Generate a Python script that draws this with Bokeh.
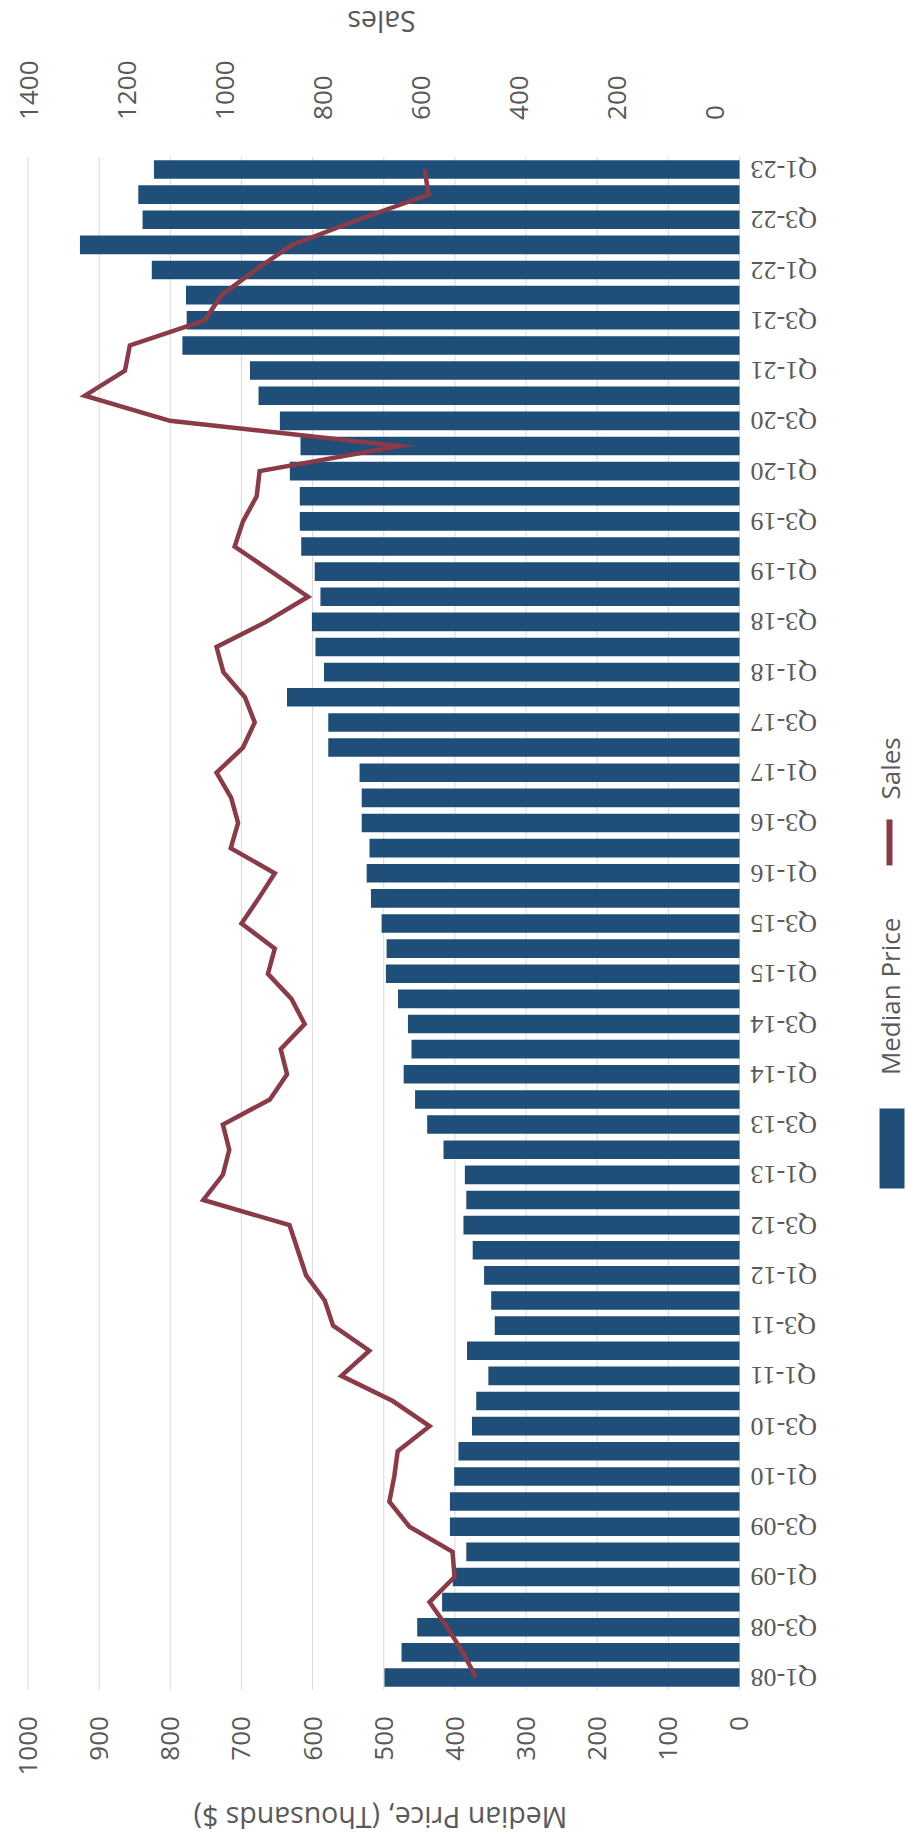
import math

from bokeh.core.properties import value
from bokeh.embed import file_html
from bokeh.models import (ColumnDataSource, FixedTicker, LabelSet, LinearAxis,
                          Range1d)
from bokeh.plotting import figure
from bokeh.resources import INLINE

# Quarterly housing market: median price (thousands $) and number of sales
quarters = [
    "Q1-08", "Q2-08", "Q3-08", "Q4-08", "Q1-09", "Q2-09", "Q3-09", "Q4-09",
    "Q1-10", "Q2-10", "Q3-10", "Q4-10", "Q1-11", "Q2-11", "Q3-11", "Q4-11",
    "Q1-12", "Q2-12", "Q3-12", "Q4-12", "Q1-13", "Q2-13", "Q3-13", "Q4-13",
    "Q1-14", "Q2-14", "Q3-14", "Q4-14", "Q1-15", "Q2-15", "Q3-15", "Q4-15",
    "Q1-16", "Q2-16", "Q3-16", "Q4-16", "Q1-17", "Q2-17", "Q3-17", "Q4-17",
    "Q1-18", "Q2-18", "Q3-18", "Q4-18", "Q1-19", "Q2-19", "Q3-19", "Q4-19",
    "Q1-20", "Q2-20", "Q3-20", "Q4-20", "Q1-21", "Q2-21", "Q3-21", "Q4-21",
    "Q1-22", "Q2-22", "Q3-22", "Q4-22", "Q1-23",
]

median_price = [
    499, 475, 453, 418, 403, 384, 407, 407,
    401, 395, 376, 370, 353, 383, 344, 349,
    359, 375, 388, 384, 386, 416, 439, 456,
    472, 461, 466, 480, 497, 496, 503, 518,
    524, 520, 531, 531, 534, 578, 578, 636,
    584, 596, 601, 589, 597, 616, 618, 618,
    632, 617, 646, 676, 688, 783, 777, 778,
    826, 927, 839, 845, 823,
]

sales = [
    487, 514, 546, 582, 531, 535, 623, 664,
    654, 647, 582, 657, 762, 705, 779, 796,
    834, 851, 868, 1044, 1004, 991, 1004, 908,
    873, 886, 837, 864, 912, 898, 966, 931,
    898, 988, 973, 987, 1017, 963, 939, 959,
    1003, 1017, 916, 830, 905, 980, 963, 935,
    929, 643, 1112, 1286, 1204, 1194, 1041, 1007,
    938, 863, 728, 584, 592,
]

price_ticks = [0, 100, 200, 300, 400, 500, 600, 700, 800, 900, 1000]
sales_ticks = [0, 200, 400, 600, 800, 1000, 1200, 1400]

BAR_BLUE = "#1F4E79"
LINE_RED = "#8B3A47"
GRID_GREY = "#D9D9D9"
TEXT_GREY = "#595959"
FONT = "Open Sans"

idx = list(range(len(quarters)))
first, last = idx[0] - 0.5, idx[-1] + 0.5
src = ColumnDataSource(dict(idx=idx, quarter=quarters, price=median_price, sales=sales))
shown = idx[::2]
cat_src = ColumnDataSource(dict(idx=shown, quarter=[quarters[i] for i in shown]))
grid_src = ColumnDataSource(dict(tick=price_ticks))

# The chart is laid out turned a quarter turn: categories run up the right side,
# the price scale runs along the bottom and the sales scale along the top.
# The frame fills the whole canvas; the axes are pinned to the edges of the
# bar area so that titles, category labels and legend can sit around it.
p = figure(
    width=906, height=1843,
    x_range=Range1d(1038.65, -234.7), y_range=Range1d(-6.605, 66.724),
    x_axis_location=None, y_axis_location=None,
    output_backend="svg", toolbar_location=None,
    min_border=0,
)
p.outline_line_color = None
p.background_fill_color = "white"
p.border_fill_color = "white"
p.grid.visible = False
p.extra_x_ranges = {"sales": Range1d(1458.2, -392.1)}

# Vertical price gridlines spanning the bar area
p.segment(x0="tick", x1="tick", y0=first, y1=last, source=grid_src,
          line_color=GRID_GREY, line_width=1)

p.hbar(y="idx", left=0, right="price", height=0.74, source=src,
       fill_color=BAR_BLUE, line_color=None)
p.line(x="sales", y="idx", source=src, x_range_name="sales",
       line_color=LINE_RED, line_width=4.5, line_join="miter")


def style_axis(ax, orientation, standoff):
    ax.major_label_orientation = orientation
    ax.major_label_standoff = standoff
    ax.major_label_text_font = FONT
    ax.major_label_text_font_size = "26px"
    ax.major_label_text_color = TEXT_GREY
    ax.axis_line_color = None
    ax.major_tick_line_color = None
    ax.minor_tick_line_color = None


price_axis = LinearAxis(ticker=FixedTicker(ticks=price_ticks), fixed_location=first)
style_axis(price_axis, math.pi / 2, 20)
p.add_layout(price_axis, "below")

sales_axis = LinearAxis(x_range_name="sales", ticker=FixedTicker(ticks=sales_ticks),
                        fixed_location=last)
style_axis(sales_axis, math.pi / 2, 31)
p.add_layout(sales_axis, "above")

# Axis titles, upside down like the rest of the turned chart
p.text(x=[504.6, 503], y=[-5.61, 65.85], text=["Median Price, (Thousands $)", "Sales"],
       angle=math.pi, text_align="center", text_baseline="middle",
       text_font=value(FONT), text_font_size="28.5px", text_color=TEXT_GREY)

# Category labels beside the bar baseline
p.add_layout(LabelSet(x=-15.5, y="idx", text="quarter", source=cat_src, angle=math.pi,
                      text_align="right", text_baseline="middle", text_font=FONT,
                      text_font_size="26px", text_color=TEXT_GREY))

# Legend, stacked along the right edge
p.quad(left=-196.8, right=-231.9, bottom=19.46, top=22.64, fill_color=BAR_BLUE, line_color=None)
p.segment(x0=-210.8, x1=-210.8, y0=32.31, y1=34.14, line_color=LINE_RED, line_width=6)
p.text(x=[-212.2, -212.2], y=[27.10, 36.17], text=["Median Price", "Sales"], angle=math.pi / 2,
       text_align="center", text_baseline="middle", text_font=value(FONT),
       text_font_size="26px", text_color=TEXT_GREY)

open("out.html", "w").write(file_html(p, INLINE))
